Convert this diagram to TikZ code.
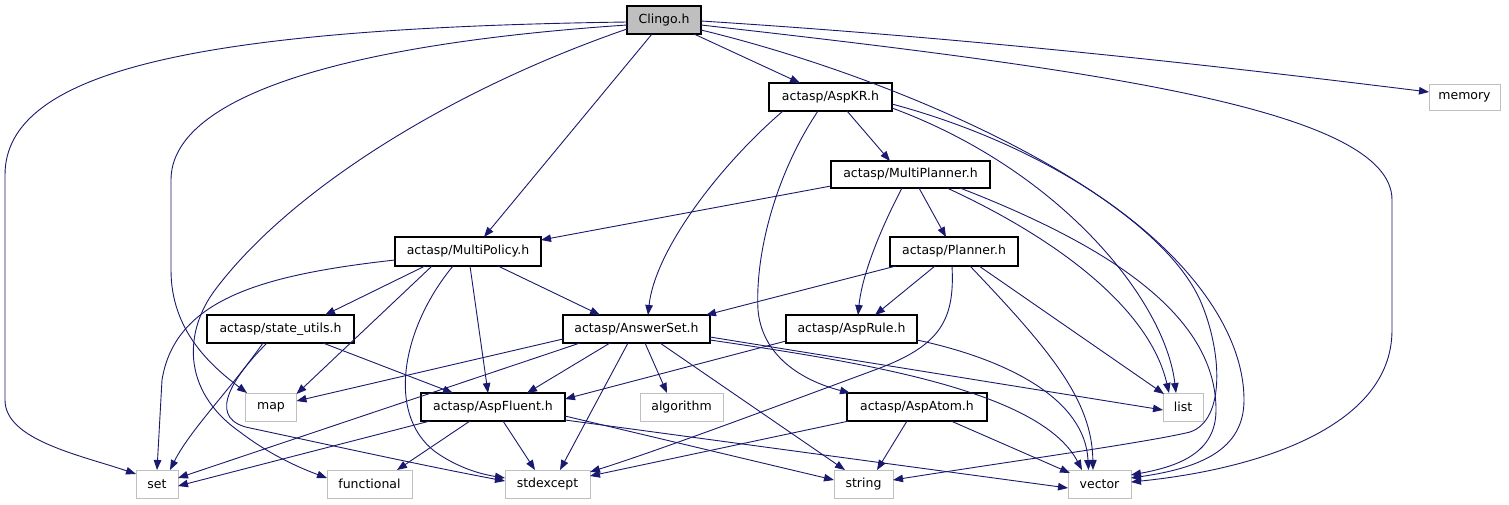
\documentclass[tikz,border=0pt]{standalone}
\usepackage{fontspec}
\setmainfont{DejaVu Sans}
\usetikzlibrary{arrows.meta,calc}
\definecolor{edgec}{HTML}{191970}
\definecolor{extc}{HTML}{BFBFBF}
\definecolor{rootc}{HTML}{BFBFBF}
\tikzset{
  e/.style={draw=edgec, line width=0.9pt, -{Triangle[length=10pt,width=7.5pt]}},
  box/.style={rectangle, inner sep=0pt, minimum height=28pt, font=\fontsize{12.5}{14}\selectfont},
  int/.style={box, draw=black, line width=1.1pt, fill=white},
  ext/.style={box, draw=extc, line width=1pt, fill=white},
  root/.style={box, draw=black, line width=1.1pt, fill=rootc},
}
\begin{document}
\begin{tikzpicture}[x=1pt,y=-1pt]
\useasboundingbox (0,0) rectangle (1509,504);
\fill[white] (0,0) rectangle (1509,504);
% nodes
\node[root, minimum width=74pt] (clingo) at (664,20) {Clingo.h};
\node[int, minimum width=123pt] (askr) at (830.5,97) {actasp/AspKR.h};
\node[ext, minimum width=71pt, minimum height=26pt] (memory) at (1464.5,97) {memory};
\node[int, minimum width=159pt, minimum height=27pt] (mplanner) at (910.5,174.5) {actasp/MultiPlanner.h};
\node[int, minimum width=146pt, minimum height=29pt] (mpolicy) at (468,251.5) {actasp/MultiPolicy.h};
\node[int, minimum width=128pt, minimum height=29pt] (planner) at (954,251.5) {actasp/Planner.h};
\node[int, minimum width=147pt] (stateutils) at (280.5,329) {actasp/state\_utils.h};
\node[int, minimum width=147pt] (answerset) at (636.5,329) {actasp/AnswerSet.h};
\node[int, minimum width=131pt] (asprule) at (851.5,329) {actasp/AspRule.h};
\node[ext, minimum width=51pt] (map) at (271,407) {map};
\node[int, minimum width=144pt] (aspfluent) at (493,407) {actasp/AspFluent.h};
\node[ext, minimum width=83pt] (algorithm) at (681.5,407) {algorithm};
\node[int, minimum width=140pt] (aspatom) at (917,407) {actasp/AspAtom.h};
\node[ext, minimum width=40pt] (list) at (1183,407) {list};
\node[ext, minimum width=42pt] (set) at (157,484) {set};
\node[ext, minimum width=85pt] (functional) at (369.5,484) {functional};
\node[ext, minimum width=85pt] (stdexcept) at (547.5,484) {stdexcept};
\node[ext, minimum width=59pt] (string) at (863.5,484) {string};
\node[ext, minimum width=63pt] (vector) at (1099.5,484) {vector};
% Clingo.h
\draw[e] ($(clingo)+(-37,2)$) .. controls (200,28) and (5,70) .. (5,175) -- (5,400) .. controls (5,440) and (80,455) .. ($(set)+(-21,-10)$);
\draw[e] ($(clingo)+(-37,5)$) .. controls (330,45) and (171,100) .. (171,180) -- (171,270) .. controls (171,330) and (210,365) .. ($(map)+(-24,-14)$);
\draw[e] ($(clingo)+(-37,9)$) .. controls (450,90) and (290,190) .. (215,290) .. controls (185,330) and (180,390) .. (240,432) .. controls (270,455) and (300,468) .. ($(functional)+(-42.5,-6)$);
\draw[e] ($(clingo)+(-12,14)$) -- ($(mpolicy)+(16,-14.5)$);
\draw[e] ($(clingo)+(30,14)$) -- ($(askr)+(-30.5,-14)$);
\draw[e] ($(clingo)+(37,1)$) .. controls (1000,40) and (1250,70) .. ($(memory)+(-35.5,-5)$);
\draw[e] ($(clingo)+(37,5)$) .. controls (1100,70) and (1392,110) .. (1392,200) -- (1392,330) .. controls (1392,430) and (1250,470) .. ($(vector)+(31.5,-2)$);
\draw[e] ($(clingo)+(37,10)$) .. controls (900,78) and (1150,190) .. (1200,300) .. controls (1222,350) and (1226,420) .. (1190,432) .. controls (1150,442) and (1000,463) .. ($(string)+(29.5,-4)$);
% AspKR.h
\draw[e] ($(askr)+(16.5,14)$) -- ($(mplanner)+(-20.5,-13.5)$);
\draw[e] ($(askr)+(-47.5,14)$) .. controls (720,165) and (655,250) .. ($(answerset)+(11.5,-14)$);
\draw[e] ($(askr)+(-12.5,14)$) .. controls (775,175) and (755,255) .. (758,310) .. controls (762,355) and (800,380) .. ($(aspatom)+(-67,-14)$);
\draw[e] ($(askr)+(61.5,11)$) .. controls (1060,170) and (1165,300) .. ($(list)+(-7,-14)$);
\draw[e] ($(askr)+(61.5,7)$) .. controls (1100,160) and (1244,290) .. (1244,400) .. controls (1244,450) and (1200,468) .. ($(vector)+(31.5,-6)$);
% MultiPlanner.h
\draw[e] ($(mplanner)+(-79.5,11.5)$) -- ($(mpolicy)+(73,-11.5)$);
\draw[e] ($(mplanner)+(-8.5,13.5)$) .. controls (880,230) and (862,275) .. ($(asprule)+(6.5,-14)$);
\draw[e] ($(mplanner)+(8.5,13.5)$) -- ($(planner)+(-8,-14.5)$);
\draw[e] ($(mplanner)+(36.5,13.5)$) .. controls (1060,240) and (1150,310) .. ($(list)+(-14,-14)$);
\draw[e] ($(mplanner)+(49.5,13.5)$) .. controls (1120,250) and (1216,320) .. (1216,410) .. controls (1216,452) and (1180,466) .. ($(vector)+(31.5,-9)$);
% MultiPolicy.h
\draw[e] ($(mpolicy)+(-73,8.5)$) .. controls (260,275) and (175,300) .. (162,380) -- ($(set)+(0,-14)$);
\draw[e] ($(mpolicy)+(-43,14.5)$) -- ($(stateutils)+(44.5,-14)$);
\draw[e] ($(mpolicy)+(-36,14.5)$) -- ($(map)+(25.5,-13)$);
\draw[e] ($(mpolicy)+(-15,14.5)$) .. controls (400,330) and (385,420) .. (440,455) .. controls (460,468) and (480,474) .. ($(stdexcept)+(-42.5,-6)$);
\draw[e] ($(mpolicy)+(2,14.5)$) -- ($(aspfluent)+(-5,-14)$);
\draw[e] ($(mpolicy)+(30,14.5)$) -- ($(answerset)+(-36.5,-14)$);
% Planner.h
\draw[e] ($(planner)+(-58,14.5)$) -- ($(answerset)+(69.5,-14)$);
\draw[e] ($(planner)+(-19,14.5)$) -- ($(asprule)+(23.5,-14)$);
\draw[e] ($(planner)+(-2,14.5)$) .. controls (955,320) and (940,345) .. (880,368) .. controls (780,405) and (660,450) .. ($(stdexcept)+(42.5,-12)$);
\draw[e] ($(planner)+(16,14.5)$) .. controls (1050,350) and (1092,400) .. ($(vector)+(-6.5,-14)$);
\draw[e] ($(planner)+(25,14.5)$) -- ($(list)+(-19,-13)$);
% state_utils.h
\draw[e] ($(stateutils)+(-17.5,14)$) .. controls (230,390) and (190,430) .. ($(set)+(13,-14)$);
\draw[e] ($(stateutils)+(-13.5,14)$) .. controls (225,385) and (210,420) .. (250,428) .. controls (330,445) and (420,465) .. ($(stdexcept)+(-42.5,-3)$);
\draw[e] ($(stateutils)+(42.5,14)$) -- ($(aspfluent)+(-40,-14)$);
% AnswerSet.h
\draw[e] ($(answerset)+(-73.5,10)$) -- ($(map)+(25.5,-6)$);
\draw[e] ($(answerset)+(-56.5,14)$) -- ($(set)+(21,-6)$);
\draw[e] ($(answerset)+(-26.5,14)$) -- ($(aspfluent)+(34,-14)$);
\draw[e] ($(answerset)+(-8.5,14)$) -- ($(stdexcept)+(12.5,-14)$);
\draw[e] ($(answerset)+(8.5,14)$) -- ($(algorithm)+(-14.5,-14)$);
\draw[e] ($(answerset)+(23.5,14)$) -- ($(string)+(-18.5,-14)$);
\draw[e] ($(answerset)+(73.5,11)$) .. controls (860,362) and (1040,390) .. ($(vector)+(-17.5,-14)$);
\draw[e] ($(answerset)+(73.5,8)$) -- ($(list)+(-20,3)$);
% AspRule.h
\draw[e] ($(asprule)+(-65.5,12)$) -- ($(aspfluent)+(72,-8)$);
\draw[e] ($(asprule)+(65.5,11)$) .. controls (1010,360) and (1085,400) .. ($(vector)+(-11,-14)$);
% AspFluent.h
\draw[e] ($(aspfluent)+(-63,14)$) -- ($(set)+(21,2)$);
\draw[e] ($(aspfluent)+(-23,14)$) -- ($(functional)+(27.5,-14)$);
\draw[e] ($(aspfluent)+(10,14)$) -- ($(stdexcept)+(-12.5,-14)$);
\draw[e] ($(aspfluent)+(72,9)$) -- ($(string)+(-29.5,-4)$);
\draw[e] ($(aspfluent)+(72,13)$) -- ($(vector)+(-31.5,4)$);
% AspAtom.h
\draw[e] ($(aspatom)+(-68,14)$) -- ($(stdexcept)+(42.5,-8)$);
\draw[e] ($(aspatom)+(-10,14)$) -- ($(string)+(13.5,-14)$);
\draw[e] ($(aspatom)+(34,14)$) -- ($(vector)+(-29.5,-11)$);
\end{tikzpicture}
\end{document}
